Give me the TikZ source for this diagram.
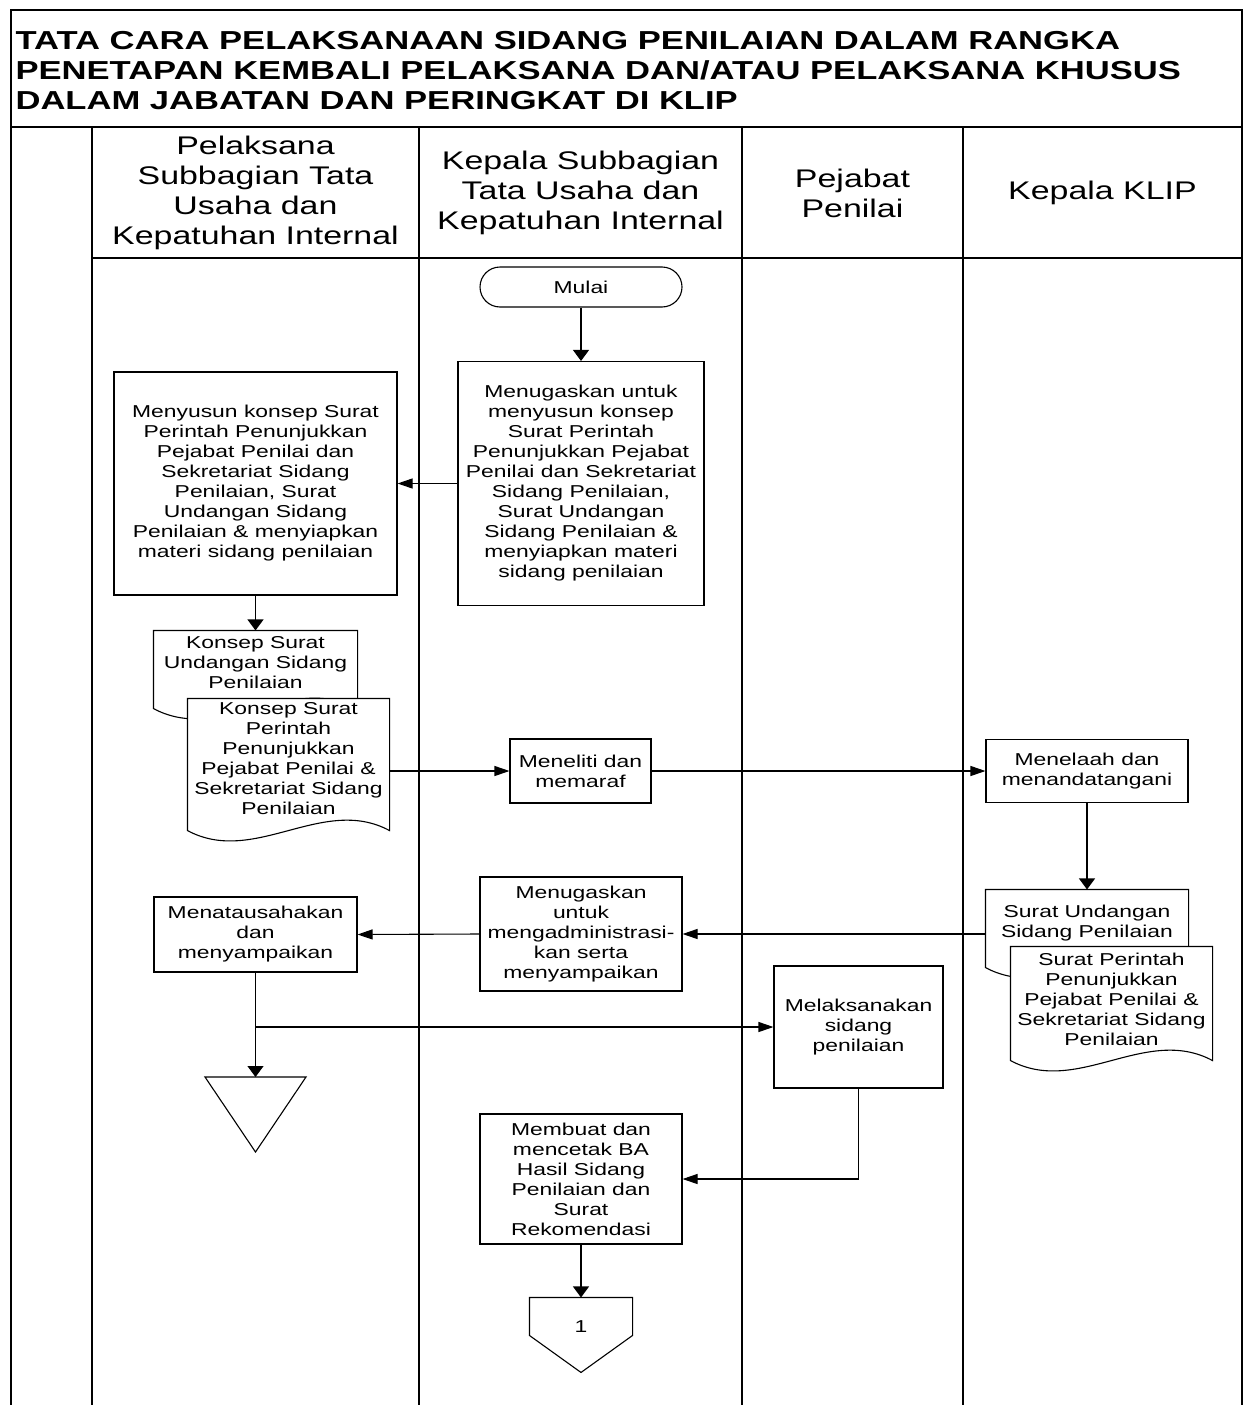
\documentclass[tikz,border=0pt]{standalone}
\usepackage{fontspec}
\setmainfont[FakeStretch=1.33]{Liberation Sans}
\usetikzlibrary{positioning,calc,arrows.meta}

\begin{document}
\begin{tikzpicture}[x=1pt,y=-1pt,line width=1.1pt,
    box/.style={draw,rectangle,align=center,inner sep=2pt,font=\fontsize{17.2}{20}\selectfont},
    doc/.style={rectangle,fill=white,align=center,inner sep=0pt,font=\fontsize{17.2}{20}\selectfont},
    lane/.style={align=center,font=\fontsize{25.5}{30}\selectfont},
    varr/.style={-{Triangle[length=11pt,width=16pt]}},
    harr/.style={-{Triangle[length=15pt,width=10pt]}}]
    \useasboundingbox (0,0) rectangle (1244,1405);
    % frame, title and lanes
    \draw (11,10) rectangle (1242,127);
    \node[anchor=west,align=left,inner sep=0pt,font=\bfseries\fontsize{26}{30}\selectfont] (title) at (15,71) {TATA CARA PELAKSANAAN SIDANG PENILAIAN DALAM RANGKA\\PENETAPAN KEMBALI PELAKSANA DAN/ATAU PELAKSANA KHUSUS\\DALAM JABATAN DAN PERINGKAT DI KLIP};
    \foreach \x in {11,92,419,742,963,1242} \draw (\x,127) -- (\x,1405);
    \draw (92,258) -- (1242,258);
    \node[lane] (pelaksana) at (255.5,193) {Pelaksana\\Subbagian Tata\\Usaha dan\\Kepatuhan Internal};
    \node[lane] (kasubbag) at (580.5,193) {Kepala Subbagian\\Tata Usaha dan\\Kepatuhan Internal};
    \node[lane] (pejabat) at (852.5,193) {Pejabat\\Penilai};
    \node[lane] (kepala) at (1102.5,193) {Kepala KLIP};

    % steps
    \node[box,rounded corners=20,minimum width=202,minimum height=40] (mulai) at (581,287) {Mulai};
    \node[box,minimum width=246,minimum height=244] (tugas) at (581,483.5) {Menugaskan untuk\\menyusun konsep\\Surat Perintah\\Penunjukkan Pejabat\\Penilai dan Sekretariat\\Sidang Penilaian,\\Surat Undangan\\Sidang Penilaian \&\\menyiapkan materi\\sidang penilaian};
    \node[box,minimum width=283,minimum height=223] (susun) at (255.5,483.5) {Menyusun konsep Surat\\Perintah Penunjukkan\\Pejabat Penilai dan\\Sekretariat Sidang\\Penilaian, Surat\\Undangan Sidang\\Penilaian \& menyiapkan\\materi sidang penilaian};

    \node[doc,minimum width=203,minimum height=64] (konsepund) at (255.5,663) {Konsep Surat\\Undangan Sidang\\Penilaian};
    \draw (konsepund.north west) -- (konsepund.north east) -- ($(konsepund.south east)+(0,13)$) .. controls ($(konsepund.south east)+(-67,-23)$) and ($(konsepund.south west)+(67,49)$) .. ($(konsepund.south west)+(0,13)$) -- cycle;
    \node[doc,minimum width=201,minimum height=120] (konsepsp) at (288.5,759) {Konsep Surat\\Perintah\\Penunjukkan\\Pejabat Penilai \&\\Sekretariat Sidang\\Penilaian};
    \draw (konsepsp.north west) -- (konsepsp.north east) -- ($(konsepsp.south east)+(0,11)$) .. controls ($(konsepsp.south east)+(-67,-25)$) and ($(konsepsp.south west)+(67,47)$) .. ($(konsepsp.south west)+(0,11)$) -- cycle;

    \node[box,minimum width=141,minimum height=64] (teliti) at (580.5,771) {Meneliti dan\\memaraf};
    \node[box,minimum width=202,minimum height=63] (telaah) at (1087,771) {Menelaah dan\\menandatangani};

    \node[doc,minimum width=202,minimum height=66] (surund) at (1087,923) {Surat Undangan\\Sidang Penilaian};
    \draw (surund.north west) -- (surund.north east) -- ($(surund.south east)+(0,11)$) .. controls ($(surund.south east)+(-67,-25)$) and ($(surund.south west)+(67,47)$) .. ($(surund.south west)+(0,11)$) -- cycle;
    \node[doc,minimum width=201,minimum height=104] (sursp) at (1111.5,999) {Surat Perintah\\Penunjukkan\\Pejabat Penilai \&\\Sekretariat Sidang\\Penilaian};
    \draw (sursp.north west) -- (sursp.north east) -- ($(sursp.south east)+(0,9)$) .. controls ($(sursp.south east)+(-67,-27)$) and ($(sursp.south west)+(67,45)$) .. ($(sursp.south west)+(0,9)$) -- cycle;

    \node[box,minimum width=202,minimum height=114] (admin) at (581,934) {Menugaskan\\untuk\\mengadministrasi-\\kan serta\\menyampaikan};
    \node[box,minimum width=203,minimum height=75] (tatausaha) at (255.5,934.5) {Menatausahakan\\dan\\menyampaikan};
    \node[box,minimum width=169,minimum height=122] (sidang) at (858.5,1027) {Melaksanakan\\sidang\\penilaian};
    \node[box,minimum width=202,minimum height=130] (buatba) at (581,1179) {Membuat dan\\mencetak BA\\Hasil Sidang\\Penilaian dan\\Surat\\Rekomendasi};

    % archive and off-page connector
    \coordinate (arsip) at (255.5,1077);
    \draw (arsip) ++(-50.5,0) -- ++(101,0) -- ++(-50.5,75) -- cycle;
    \node[doc,fill=none,minimum width=102,minimum height=58] (hal1) at (581,1327) {1};
    \draw (hal1.north west) -- (hal1.north east) -- ($(hal1.north east)+(0,38)$) -- ($(hal1.north)+(0,75)$) -- ($(hal1.north west)+(0,38)$) -- cycle;
    \coordinate (cabang) at (255.5,1027);

    % connectors
    \draw[varr] (mulai.south) -- (tugas.north);
    \draw[harr] (tugas.west) -- (susun.east);
    \draw[varr] (susun.south) -- (konsepund.north);
    \draw[harr] (konsepsp.east |- teliti.west) -- (teliti.west);
    \draw[harr] (teliti.east) -- (telaah.west);
    \draw[varr] (telaah.south) -- (surund.north);
    \draw[harr] (surund.west |- admin.east) -- (admin.east);
    \draw[harr] (admin.west) -- (tatausaha.east);
    \draw[varr] (tatausaha.south) -- (arsip);
    \draw[harr] (cabang) -- (sidang.west);
    \draw[harr] (sidang.south) |- (buatba.east);
    \draw[varr] (buatba.south) -- (hal1.north);
\end{tikzpicture}
\end{document}
